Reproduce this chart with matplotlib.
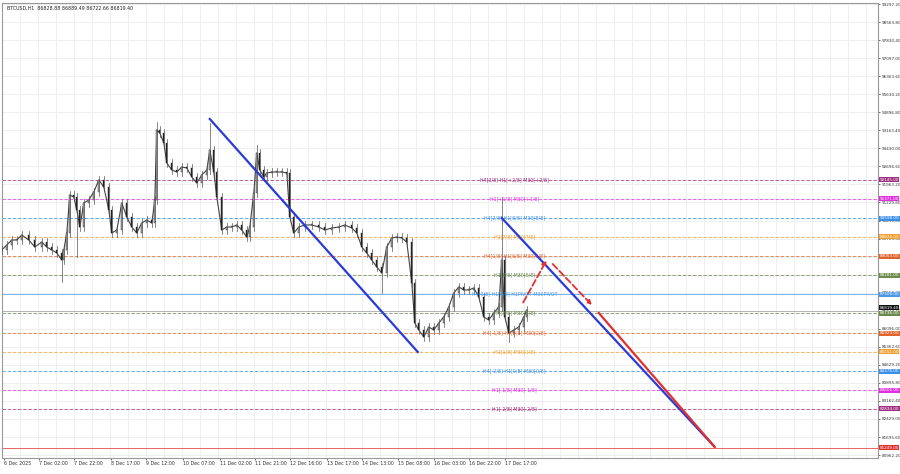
import numpy as np
import matplotlib
matplotlib.use("Agg")
import matplotlib.pyplot as plt

# bar positions (chart x units) and closing prices
bar_x = [0, 5, 10, 15, 20, 27, 33, 40, 45, 50, 55, 60, 62, 65, 68, 72, 75, 78, 82, 87,
         92, 97, 102, 107, 110, 115, 120, 125, 130, 135, 140, 145, 150, 153, 155, 158, 162, 165, 170, 175,
         180, 185, 190, 195, 200, 205, 208, 212, 215, 220, 225, 230, 235, 240, 245, 248, 252, 255, 258, 262,
         265, 270, 275, 280, 285, 288, 292, 297, 303, 310, 317, 323, 330, 337, 343, 350, 355, 360, 365, 370,
         375, 380, 385, 390, 395, 400, 405, 410, 413, 417, 422, 427, 432, 437, 442, 447, 452, 457, 462, 467,
         472, 477, 482, 487, 492, 497, 500, 503, 507, 512, 517, 522, 525]
closes = [89297, 89501, 89704, 89704, 89907, 89704, 89420, 89623, 89420, 89297, 89176, 88891, 89297, 89989, 91533, 91452, 90924, 90232, 91208, 91330,
          91655, 92143, 91858, 90924, 89989, 90111, 91208, 90639, 90232, 89989, 90395, 90517, 90395, 91330, 94176, 94054, 93654, 92834, 92550, 92468,
          92672, 92631, 92265, 92021, 92346, 92550, 93362, 92468, 91452, 90111, 90232, 90232, 90314, 90111, 89826, 90232, 91615, 93241, 92550, 92265,
          92427, 92468, 92468, 92468, 92427, 90639, 89989, 90232, 90314, 90314, 90232, 90111, 90192, 90232, 90314, 90192, 89989, 89420, 89176, 88891,
          88606, 88362, 89420, 89785, 89826, 89785, 89623, 87956, 86330, 86045, 85761, 86167, 86045, 86330, 86574, 86980, 87551, 87794, 87672, 87672,
          87753, 87387, 86574, 86452, 86737, 86980, 88891, 86574, 85923, 86045, 86167, 86574, 86859]
# extreme wicks
spike_x = [60, 75, 155, 208, 255, 380, 500, 507]
spike_p = [87997, 89013, 94500, 94460, 93566, 87551, 91452, 85558]

# murrey levels: price, colour, centre label, line style
levels = [
    (92145, "#a0307f", "H4[3/8] H1[+2/8] M30[+2/8]", "--"),
    (91371, "#e030e0", "H1[+1/8] M30[+1/8]", "--"),
    (90598, "#3b8fe8", "H4[2/8] H1[8/8] M30[8/8]", "--"),
    (89826, "#f0a030", "H1[7/8] M30[7/8]", "--"),
    (89053, "#e0642e", "H4[1/8] H1[6/8] M30[6/8]", "--"),
    (88281, "#6b8a4e", "H1[5/8] M30[5/8]", "--"),
    (87508, "#4a98e8", "H4[0/8] H1[4/8] H1PIVOT M30PIVOT", "-"),
    (86736, "#6b8a4e", "H1[3/8] M30[3/8]", "--"),
    (85923, "#e0642e", "H4[-1/8] H1[2/8] M30[2/8]", "--"),
    (85151, "#f0a030", "H1[1/8] M30[1/8]", "--"),
    (84378, "#3b8fe8", "H4[-2/8] H1[0/8] M30[0/8]", "--"),
    (83606, "#e030e0", "H1[-1/8] M30[-1/8]", "--"),
    (82834, "#a0307f", "H1[-2/8] M30[-2/8]", "--"),
    (81249, "#e03030", "", "-"),
]
current_price = 86819.40

tick_x = [2, 37, 72, 109, 144, 181, 218, 253, 288, 325, 360, 396, 432, 467, 503]
tick_labels = ["6 Dec 2025", "7 Dec 02:00", "7 Dec 22:00", "8 Dec 17:00", "9 Dec 12:00",
               "10 Dec 07:00", "11 Dec 02:00", "11 Dec 21:00", "12 Dec 16:00", "13 Dec 17:00",
               "14 Dec 13:00", "15 Dec 08:00", "16 Dec 03:00", "16 Dec 22:00", "17 Dec 17:00"]

fig = plt.figure(figsize=(9, 4.74), dpi=100)
ax = fig.add_axes([0.002, 16 / 474, 876 / 900, 455 / 474])
ax.set_xlim(0, 876)
ax.set_ylim(80842, 99338)

for gx in np.arange(0, 876, 18):
    ax.axvline(gx, color="#ededed", lw=0.6, zorder=0)
yt = np.linspace(80962.2, 99297.2, 26)
for gy in yt:
    ax.axhline(gy, color="#ededed", lw=0.6, zorder=0)

# candles
ax.plot(bar_x, closes, color="#444444", lw=0.8, zorder=3)
opens = [closes[0]] + closes[:-1]
for i, x in enumerate(bar_x):
    o, c = opens[i], closes[i]
    hi, lo = max(o, c) + 150, min(o, c) - 150
    if x in spike_x:
        sp = spike_p[spike_x.index(x)]
        hi, lo = max(hi, sp), min(lo, sp)
    ax.plot([x, x], [lo, hi], color="#555555", lw=0.5, zorder=3)
    ax.add_patch(plt.Rectangle((x - 0.6, min(o, c)), 1.2, max(abs(c - o), 30),
                               facecolor="#222222" if c < o else "#cccccc",
                               edgecolor="#222222", lw=0.3, zorder=4))

for price, col, lab, ls in levels:
    ax.axhline(price, color=col, lw=0.7, ls=ls, alpha=0.75, zorder=1)
    if lab:
        ax.text(513, price, lab, color=col, fontsize=3.4, ha="center", va="center", zorder=5)
ax.axhline(current_price, color="#aaaaaa", lw=0.6, zorder=1)

# trend lines
ax.plot([208, 416], [94623, 85151], color="#2a3bd6", lw=1.6, zorder=6)
ax.plot([500, 712], [90598, 81330], color="#2a3bd6", lw=1.6, zorder=6)
ax.plot([597, 713], [86737, 81290], color="#e03030", lw=1.6, zorder=6)
ax.annotate("", xy=(546, 88972), xytext=(520, 87062),
            arrowprops=dict(arrowstyle="-|>", color="#e03030", lw=1.3, ls="--", mutation_scale=6), zorder=7)
ax.annotate("", xy=(592, 86980), xytext=(549, 88810),
            arrowprops=dict(arrowstyle="-|>", color="#e03030", lw=1.3, ls="--", mutation_scale=6), zorder=7)

ax.yaxis.tick_right()
ax.set_yticks(yt)
ax.set_yticklabels(["%.2f" % v for v in yt], fontsize=3.0)
ax.set_xticks(tick_x)
ax.set_xticklabels(tick_labels, fontsize=3.4, ha="left")
ax.tick_params(length=1.5, width=0.5, pad=1, colors="#333333")
for s in ax.spines.values():
    s.set_color("#999999")
    s.set_linewidth(0.8)

# price labels on the right axis
for price, col, lab, ls in levels:
    ax.text(1.002, price, "%.2f" % price, transform=ax.get_yaxis_transform(), fontsize=3.0,
            color="white", va="center", ha="left",
            bbox=dict(boxstyle="square,pad=0.12", fc=col, ec="none"), clip_on=False, zorder=8)
ax.text(1.002, current_price + 140, "%.2f" % current_price, transform=ax.get_yaxis_transform(),
        fontsize=3.0, color="white", va="center", ha="left",
        bbox=dict(boxstyle="square,pad=0.12", fc="#111111", ec="none"), clip_on=False, zorder=9)

ax.text(0.006, 0.993, "BTCUSD,H1  86828.88 86889.49 86722.66 86819.40", transform=ax.transAxes,
        fontsize=3.4, va="top", ha="left", color="#222222")

fig.savefig("out.png", dpi=100)
